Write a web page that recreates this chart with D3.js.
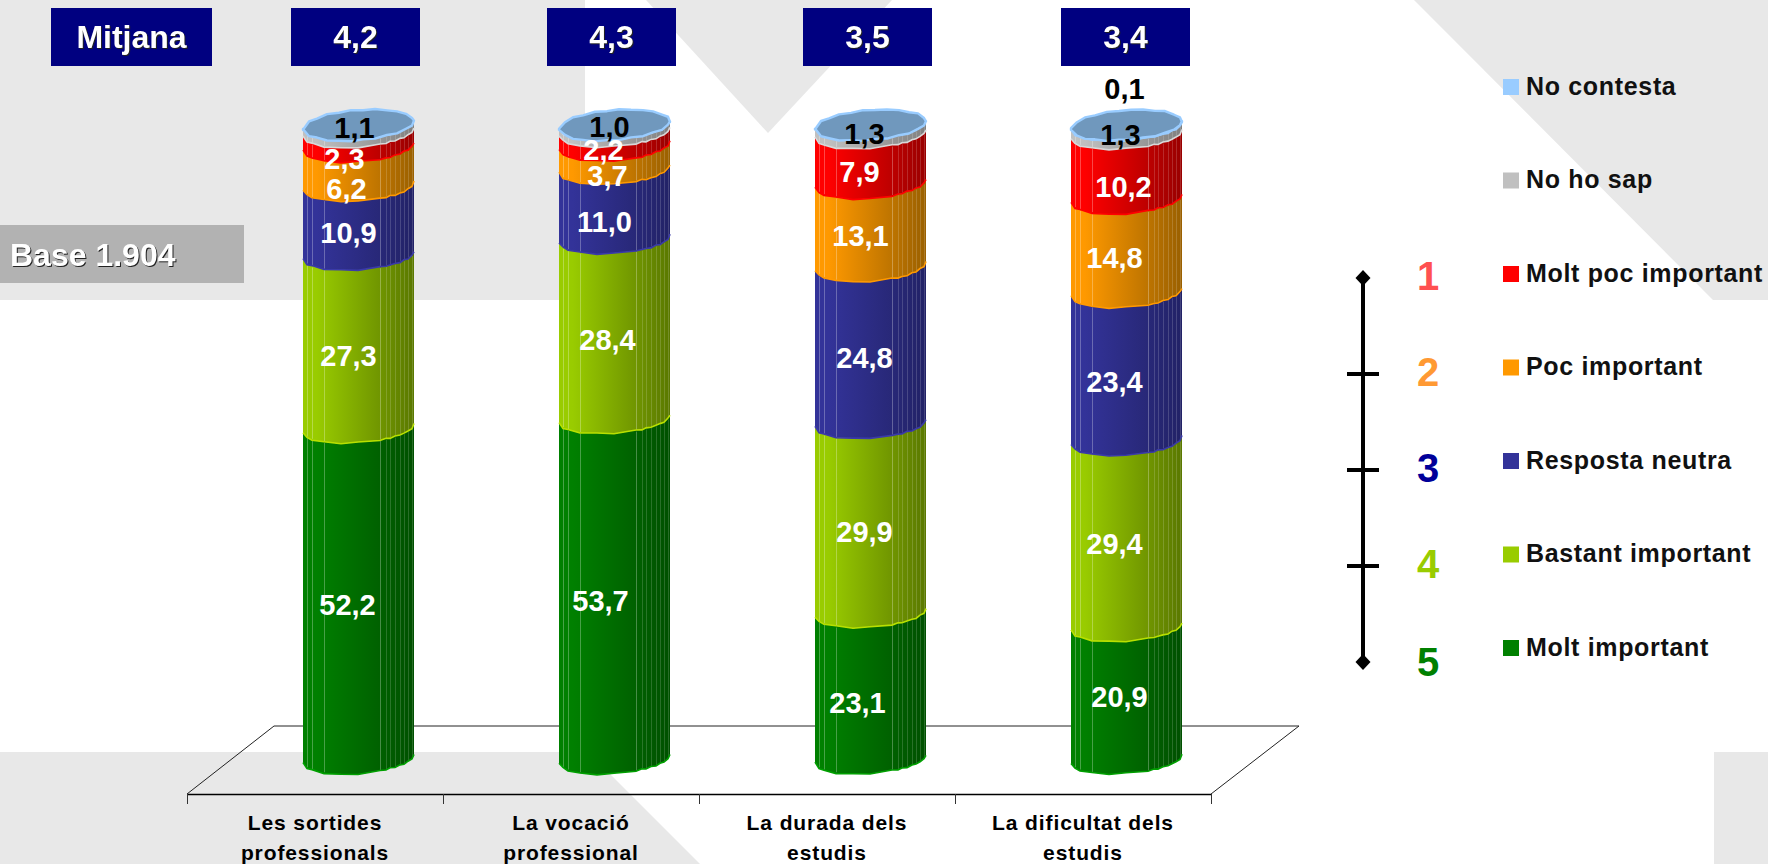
<!DOCTYPE html>
<html>
<head>
<meta charset="utf-8">
<script src="https://cdn.jsdelivr.net/npm/d3@7"></script>
<style>
  html, body { margin: 0; padding: 0; background: #fff; }
  svg { display: block; }
  text { font-family: "Liberation Sans", Arial, sans-serif; font-weight: bold; }
  .shadow { filter: drop-shadow(1.5px 1.5px 0.6px #222); }
  .cat { letter-spacing: 0.9px; }
  .leg { letter-spacing: 0.67px; }
</style>
</head>
<body>
<svg id="chart" width="1768" height="864"></svg>
<script>
// data
var categories = [["Les sortides", "professionals"], ["La vocació", "professional"], ["La durada dels", "estudis"], ["La dificultat dels", "estudis"]];
var means = [4.2, 4.3, 3.5, 3.4];
var seriesNames = ["Molt important", "Bastant important", "Resposta neutra", "Poc important", "Molt poc important", "No ho sap", "No contesta"];
var moltImportant = [52.2, 53.7, 23.1, 20.9];
var bastantImportant = [27.3, 28.4, 29.9, 29.4];
var respostaNeutra = [10.9, 11.0, 24.8, 23.4];
var pocImportant = [6.2, 3.7, 13.1, 14.8];
var moltPocImportant = [2.3, 2.2, 7.9, 10.2];
var noHoSap = [1.1, 1.0, 1.3, 1.3];
var noContesta = [0, 0, 0, 0.1];
var scaleLabels = [1, 2, 3, 4, 5];
var baseLabel = "Base 1.904";
var meanLabel = "Mitjana";

var seriesValues = [moltImportant, bastantImportant, respostaNeutra, pocImportant, moltPocImportant, noHoSap, noContesta];

// styling, same order as seriesNames
var seriesColors = ["#008000", "#99cc00", "#333399", "#ff9900", "#ff0000", "#c0c0c0", "#99ccff"];
var seriesDark = ["#005000", "#5a7800", "#222266", "#9a6000", "#990000", "#808080", "#99ccff"];
var edgeColors = ["#00a000", "#b8e000", "#3a3aa8", "#ff9900", "#ff0000", "#d8d8d8", "#99ccff"];
var labelColors = ["#fff", "#fff", "#fff", "#fff", "#fff", "#000", "#000"];
var scaleColors = ["#ff5050", "#ff9933", "#000099", "#99cc00", "#008000"];

// hand placement of the value labels, [dx, dy] per column then per series
var labelNudge = [
  [[-11, 12], [-10, 15], [-10, 13], [-12, 23], [-14, 20], [-4, -1], [0, 0]],
  [[-14, 12], [-7, 11], [-10, 18], [-7, 19], [-11, 12], [-5, -1], [0, 0]],
  [[-13, 17], [-6, 14], [-6, 13], [-10, 11], [-11, 14], [-6, 5], [0, 0]],
  [[-7, 4], [-12, 11], [-12, 16], [-12, 13], [-3, 21], [-6, 5], [-2, -36]]
];

var svg = d3.select("#chart");
var fmt = d3.formatLocale({ decimal: ",", thousands: ".", grouping: [3], currency: ["", "€"] }).format(".1f");

// background shapes
var bgShapes = [
  [[0, 0], [585, 0], [585, 300], [0, 300]],
  [[646, 0], [892, 0], [768, 133]],
  [[1414, 0], [1768, 0], [1768, 300], [1713, 300]],
  [[0, 752], [588, 752], [700, 864], [0, 864]],
  [[1714, 752], [1768, 752], [1768, 864], [1714, 864]]
];
svg.append("g").selectAll("polygon").data(bgShapes).join("polygon")
  .attr("points", function(d) { return d.join(" "); })
  .attr("fill", "#e8e8e8");

// scales
var x = d3.scaleBand().domain(d3.range(categories.length)).range([187, 1211]);
var y = d3.scaleLinear().domain([0, 1]).range([758.5, 125]);
var depth = 43.5;
var rx = 55.5, ry = 15, tilt = 4;
var cx = function(i) { return x(i) + x.bandwidth() / 2 + depth; };

// floor
var floor = [[187, 794], [274, 726], [1299, 726], [1211, 794]];
svg.append("path").attr("d", d3.line()(floor)).attr("fill", "none").attr("stroke", "#222").attr("stroke-width", 1);

var tickScale = d3.scaleLinear().domain([0, categories.length]).range([187, 1211]);
var axis = svg.append("g").attr("transform", "translate(0,794)")
  .call(d3.axisBottom(tickScale).tickValues(d3.range(categories.length + 1)).tickFormat("").tickSize(10).tickSizeOuter(0));
axis.select(".domain").attr("stroke", "#000").attr("stroke-width", 1.5);
axis.selectAll("line").attr("stroke", "#333");

var catText = svg.append("g").selectAll("text").data(categories).join("text")
  .attr("class", "cat").attr("text-anchor", "middle").attr("font-size", 21)
  .attr("x", function(d, i) { return x(i) + x.bandwidth() / 2; }).attr("y", 830);
catText.append("tspan").text(function(d) { return d[0]; });
catText.append("tspan").attr("x", function(d, i) { return x(i) + x.bandwidth() / 2; }).attr("dy", 30).text(function(d) { return d[1]; });

// cylinders
var stack = d3.stack().keys(d3.range(seriesNames.length)).value(function(d, k) { return seriesValues[k][d]; }).offset(d3.stackOffsetExpand);
var stacked = stack(d3.range(categories.length));

var defs = svg.append("defs");
seriesNames.forEach(function(name, k) {
  var g = defs.append("linearGradient").attr("id", "grad" + k);
  g.append("stop").attr("offset", "0.12").attr("stop-color", seriesColors[k]);
  g.append("stop").attr("offset", "1").attr("stop-color", seriesDark[k]);
});

var facets = [0, 4, 9, 21, 38, 55, 77, 83, 87, 92, 97, 101, 105, 109, 111];
var facetLines = [4, 9, 21, 77, 83, 87, 92, 97, 101, 105, 109];
var wobble = [0, 0.8, -0.4, 0.9, 0.3, 0.9, -0.3, 0.5, -0.8, 0.4, -0.6, 0.5, -0.5, 0.3, 0];

// front edge of the tilted ring at height cy, off = distance from left side
function frontY(cy, off, j, side) {
  var u = (off - rx) / rx;
  u = Math.max(-1, Math.min(1, u));
  return cy - tilt * u + (side || 1) * ry * Math.sqrt(1 - u * u) + wobble[j % wobble.length];
}
var line = d3.line();

stacked.forEach(function(layer, k) {
  var g = svg.append("g").attr("class", "series s" + k);
  layer.forEach(function(d, i) {
    if (d[1] - d[0] <= 0) return;
    var left = cx(i) - rx;
    var yb = y(d[0]), yt = y(d[1]);
    var bottom = facets.map(function(f, j) { return [left + f, frontY(yb, f, j + k * 3 + i)]; });
    var top = facets.map(function(f, j) { return [left + f, frontY(yt, f, j + (k + 1) * 3 + i)]; }).reverse();
    g.append("path").attr("d", line(bottom.concat(top)) + "Z").attr("fill", "url(#grad" + k + ")");
    facetLines.forEach(function(f) {
      g.append("line")
        .attr("x1", left + f + 0.5).attr("x2", left + f + 0.5)
        .attr("y1", frontY(yb, f, 0) - 0.5).attr("y2", frontY(yt, f, 0) + 1)
        .attr("stroke", "#fff").attr("stroke-opacity", f < 30 || f == 77 ? 0.28 : 0.16).attr("stroke-width", 1);
    });
    g.append("path").attr("d", line(bottom)).attr("fill", "none").attr("stroke", edgeColors[k]).attr("stroke-width", 1.6);
  });
});

// top of each cylinder
d3.range(categories.length).forEach(function(i) {
  var left = cx(i) - rx;
  var yt = y(1);
  var topFacets = [0, 6, 14, 24, 36, 48, 60, 72, 84, 94, 103, 109, 111];
  var front = topFacets.map(function(f, j) { return [left + f, frontY(yt, f, j + i)]; });
  var back = topFacets.map(function(f, j) { return [left + f, frontY(yt, f, j + i + 5, -1)]; }).reverse();
  svg.append("path").attr("d", line(front.concat(back)) + "Z")
    .attr("fill", "#7098bd").attr("stroke", "#99ccff").attr("stroke-width", 2.4).attr("stroke-linejoin", "round");
});

// value labels
stacked.forEach(function(layer, k) {
  layer.forEach(function(d, i) {
    if (seriesValues[k][i] <= 0) return;
    var n = labelNudge[i][k];
    svg.append("text")
      .attr("x", cx(i) + n[0]).attr("y", y((d[0] + d[1]) / 2) + n[1])
      .attr("dy", "0.35em").attr("text-anchor", "middle").attr("font-size", 29)
      .attr("fill", labelColors[k]).text(fmt(seriesValues[k][i]));
  });
});

// mean boxes
var boxLeft = [291, 547, 803, 1061];
var boxW = 129, boxY = 8, boxH = 58;
var boxGroup = svg.append("g");
boxGroup.append("rect").attr("x", 51).attr("y", boxY).attr("width", 161).attr("height", boxH).attr("fill", "#000080");
boxGroup.append("text").attr("class", "shadow").attr("x", 131.5).attr("y", boxY + boxH / 2).attr("dy", "0.35em")
  .attr("text-anchor", "middle").attr("font-size", 32).attr("fill", "#fff").text(meanLabel);
means.forEach(function(m, i) {
  boxGroup.append("rect").attr("x", boxLeft[i]).attr("y", boxY).attr("width", boxW).attr("height", boxH).attr("fill", "#000080");
  boxGroup.append("text").attr("class", "shadow").attr("x", boxLeft[i] + boxW / 2).attr("y", boxY + boxH / 2).attr("dy", "0.35em")
    .attr("text-anchor", "middle").attr("font-size", 32).attr("fill", "#fff").text(fmt(m));
});

// base box
svg.append("rect").attr("x", 0).attr("y", 225).attr("width", 244).attr("height", 58).attr("fill", "#b2b2b2");
svg.append("text").attr("class", "shadow").attr("x", 10).attr("y", 255).attr("dy", "0.35em")
  .attr("font-size", 32).attr("fill", "#fff").text(baseLabel);

// 1 to 5 scale
var sy = d3.scalePoint().domain(scaleLabels).range([278, 662]);
svg.append("line").attr("x1", 1363).attr("x2", 1363).attr("y1", sy(1)).attr("y2", sy(5)).attr("stroke", "#000").attr("stroke-width", 4);
scaleLabels.slice(1, -1).forEach(function(s) {
  svg.append("line").attr("x1", 1347).attr("x2", 1379).attr("y1", sy(s)).attr("y2", sy(s)).attr("stroke", "#000").attr("stroke-width", 4);
});
[1, 5].forEach(function(s) {
  svg.append("path").attr("transform", "translate(1363," + sy(s) + ")").attr("d", "M0,-8L7.5,0L0,8L-7.5,0Z").attr("fill", "#000");
});
scaleLabels.forEach(function(s, i) {
  svg.append("text").attr("x", 1428).attr("y", sy(s) - (s < 5 ? 2 : 0)).attr("dy", "0.35em").attr("text-anchor", "middle")
    .attr("font-size", 40).attr("fill", scaleColors[i]).text(s);
});

// legend, top to bottom
var legendOrder = d3.range(seriesNames.length).reverse();
var ly = d3.scalePoint().domain(legendOrder).range([87, 648]);
legendOrder.forEach(function(k) {
  svg.append("rect").attr("x", 1503).attr("y", ly(k) - 8).attr("width", 16).attr("height", 16).attr("fill", seriesColors[k]);
  svg.append("text").attr("class", "leg").attr("x", 1526).attr("y", ly(k) - 1).attr("dy", "0.35em")
    .attr("font-size", 25).attr("fill", "#111").text(seriesNames[k]);
});
</script>
</body>
</html>
